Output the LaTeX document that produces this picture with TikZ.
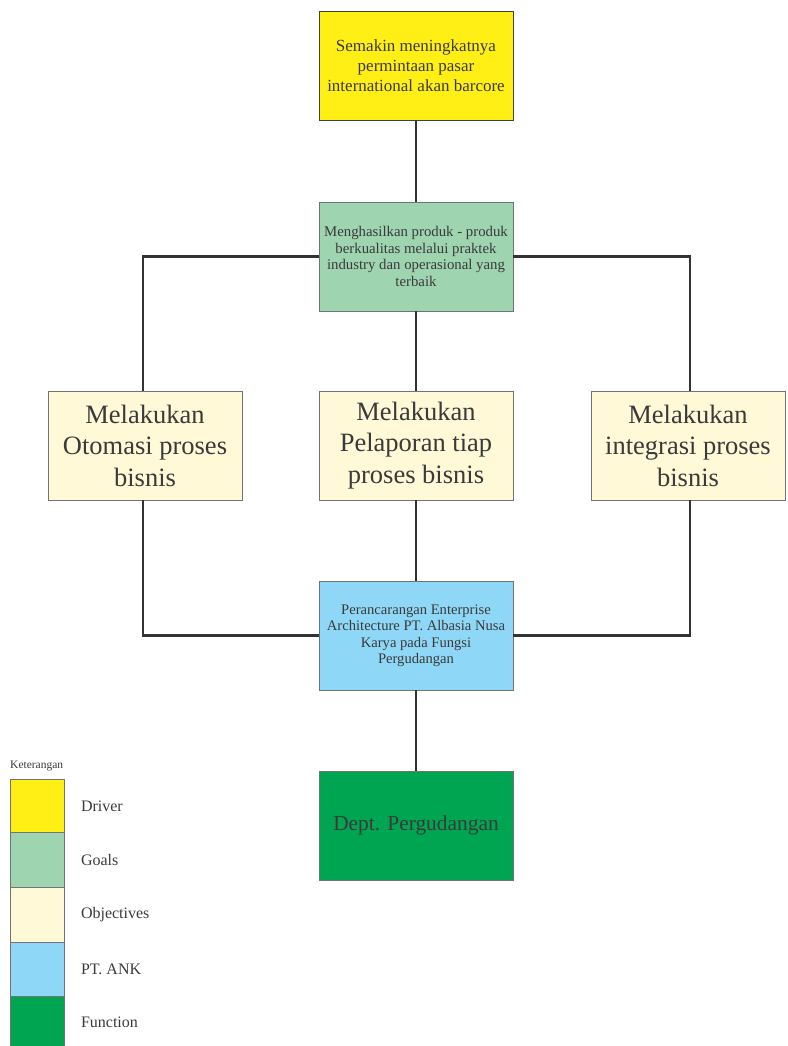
\documentclass[tikz,border=0pt]{standalone}
\usepackage{fontspec}
\setmainfont{Liberation Serif}
\usepackage{tikz}
\usetikzlibrary{calc}
\usetikzlibrary{positioning}
\definecolor{cdriver}{HTML}{FFEF14}
\definecolor{cgoal}{HTML}{9FD4B0}
\definecolor{cobj}{HTML}{FFF9D7}
\definecolor{cank}{HTML}{8FD7F6}
\definecolor{cfunc}{HTML}{00A552}
\definecolor{cline}{HTML}{333333}
\definecolor{ctext}{HTML}{3A3A3A}
\newcommand{\legendbox}[5]{\node[legbox, fill=#2, minimum height=#4] (#1) at (10,#3) {}; \node[legtext, right=16 of #1] (#1t) {#5};}

\begin{document}
\begin{tikzpicture}[x=1pt, y=-1pt,
        box/.style={draw=black!55, line width=0.8pt, rectangle, minimum width=194, minimum height=109, align=center, text=ctext, inner sep=2pt},
        link/.style={draw=cline, line width=2.8pt},
        legbox/.style={draw=black!55, line width=0.8pt, rectangle, anchor=north west, minimum width=54, inner sep=0pt},
        legtext/.style={text=ctext, font=\fontsize{16}{19}\selectfont, inner sep=0pt}]
        \useasboundingbox (0,0) rectangle (787,1046);
        % top
        \node[box, fill=cdriver, draw=black!75, font=\fontsize{17}{20}\selectfont] (driver) at (416,65.5)
            {Semakin meningkatnya\\permintaan pasar\\international akan barcore};
        \node[box, fill=cgoal, font=\fontsize{14.8}{16.5}\selectfont] (goal) at (416,256.5)
            {Menghasilkan produk - produk\\berkualitas melalui praktek\\industry dan operasional yang\\terbaik};
        % objectives
        \node[box, fill=cobj, font=\fontsize{26.5}{31.5}\selectfont] (obj1) at (145,445.5)
            {Melakukan\\Otomasi proses\\bisnis};
        \node[box, fill=cobj, font=\fontsize{26.5}{31.5}\selectfont] (obj2) at (416,445.5)
            {Melakukan\\Pelaporan tiap\\proses bisnis};
        \node[box, fill=cobj, font=\fontsize{26.5}{31.5}\selectfont] (obj3) at (688,445.5)
            {Melakukan\\integrasi proses\\bisnis};
        % bottom
        \node[box, fill=cank, font=\fontsize{14.6}{16.5}\selectfont] (ank) at (416,635.5)
            {Perancarangan Enterprise\\Architecture PT. Albasia Nusa\\Karya pada Fungsi\\Pergudangan};
        \node[box, fill=cfunc, font=\fontsize{21.4}{25}\selectfont] (func) at (416,825.5)
            {Dept. Pergudangan};
        % links
        \draw[link] (driver) -- (goal);
        \draw[link] (goal) -- (obj2);
        \draw[link] (goal.west) -| ([xshift=-2]obj1.north);
        \draw[link] (goal.east) -| ([xshift=2]obj3.north);
        \draw[link] (obj2) -- (ank);
        \draw[link] ([xshift=-2]obj1.south) |- (ank.west);
        \draw[link] ([xshift=2]obj3.south) |- (ank.east);
        \draw[link] (ank) -- (func);
        % legend
        \node[text=ctext, font=\fontsize{11.5}{13}\selectfont, anchor=west, inner sep=0pt] (ket) at (10,766) {Keterangan};
        \legendbox{ldriver}{cdriver}{779}{53}{Driver}
        \legendbox{lgoal}{cgoal}{832}{55}{Goals}
        \legendbox{lobj}{cobj}{887}{55}{Objectives}
        \legendbox{lank}{cank}{942}{54}{PT. ANK}
        \legendbox{lfunc}{cfunc}{996}{52}{Function}
    \end{tikzpicture}
\end{document}
